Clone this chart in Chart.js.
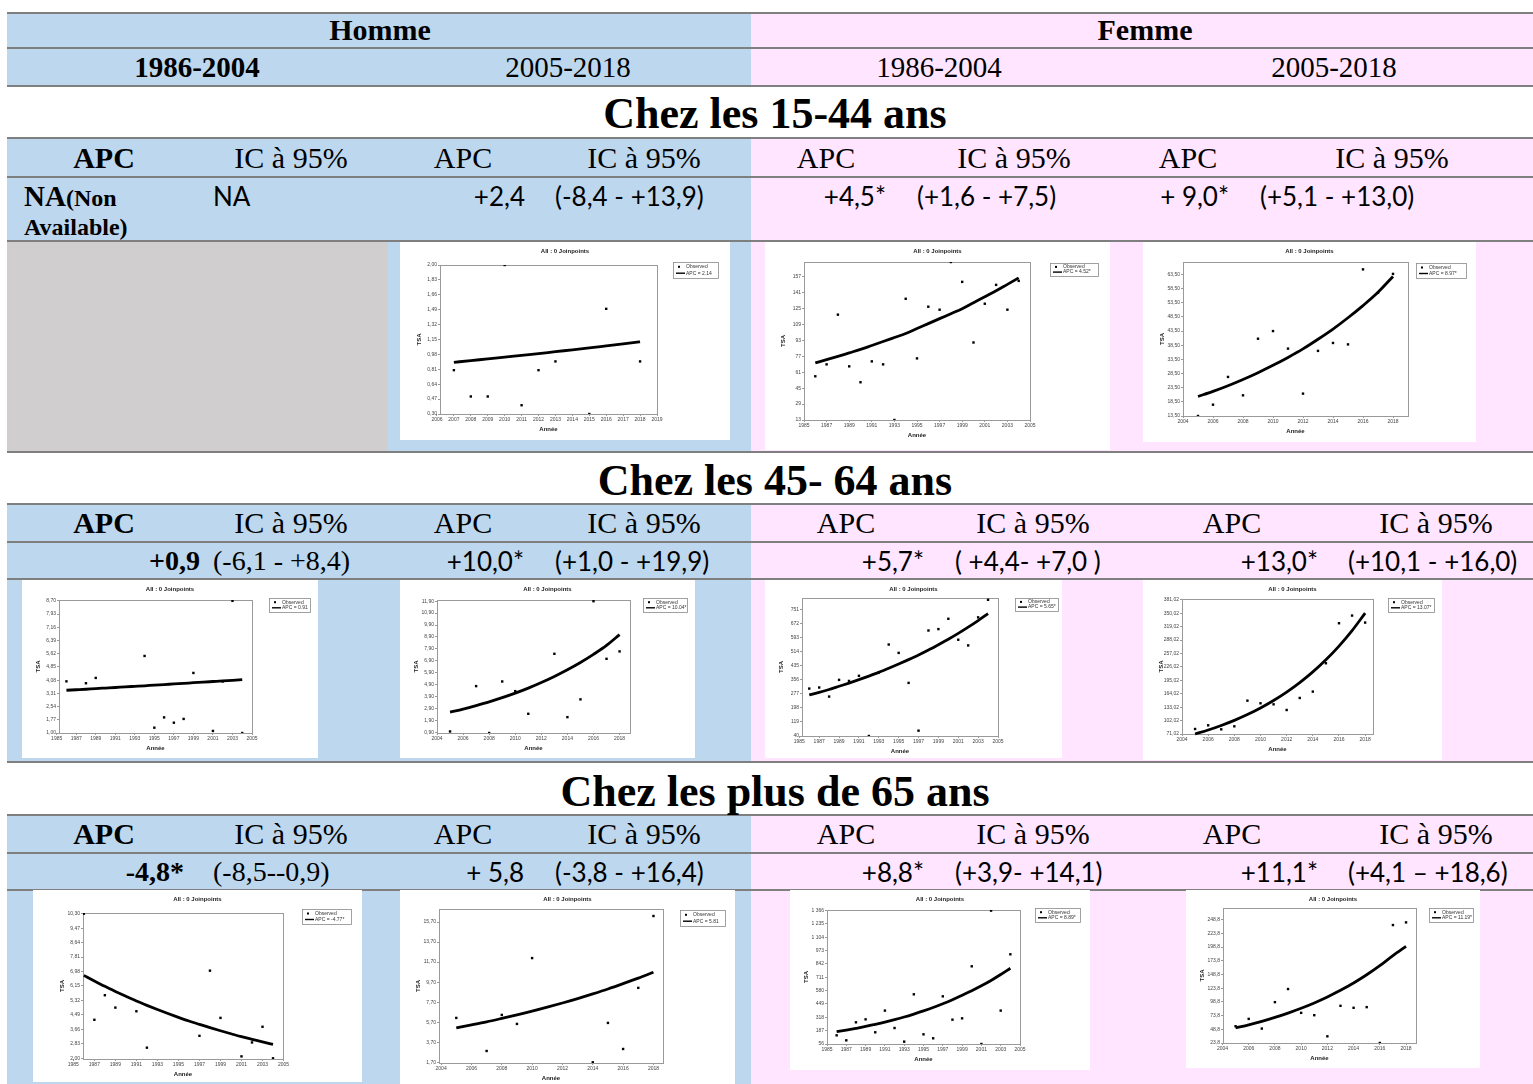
<!DOCTYPE html>
<html lang="fr">
<head>
<meta charset="utf-8">
<title>APC des TSA par sexe, période et classe d'âge</title>
<script src="https://cdn.jsdelivr.net/npm/chart.js@4.4.1/dist/chart.umd.min.js"></script>
<style>
  html, body { margin: 0; padding: 0; background: #fff; }
  #sheet { position: relative; width: 1533px; height: 1084px; overflow: hidden; color: #000; }
  .bg, .rule, .t, .panel { position: absolute; }
  .rule { left: 7px; width: 1526px; height: 2px; background: #7f7f7f; }
  .t { white-space: nowrap; line-height: 1; }
  .panel { background: #fff; }
  .panel canvas { display: block; filter: blur(0.35px); }
</style>
</head>
<body>
<div id="sheet"></div>
<script>
// ---------- Years ----------
const years1986_2004 = [1986,1987,1988,1989,1990,1991,1992,1993,1994,1995,1996,1997,1998,1999,2000,2001,2002,2003,2004];
const years2005_2018 = [2005,2006,2007,2008,2009,2010,2011,2012,2013,2014,2015,2016,2017,2018];
const years2007_2018 = [2007,2008,2009,2010,2011,2012,2013,2014,2015,2016,2017,2018];

// ---------- 15-44 ans ----------
const obsH0518_15_44 = [0.80,0.50,0.50,2.00,0.40,0.80,0.90,null,0.30,1.50,null,0.90];
const fitH0518_15_44 = [0.890,0.909,0.929,0.948,0.969,0.989,1.011,1.032,1.054,1.077,1.100,1.123];
const obsF8604_15_44 = [57,69,119,67,51,72,69,13,135,75,127,124,172,152,91,130,149,124,153];
const fitF8604_15_44 = [70.5,73.7,77,80.5,84,88,92,96,100,105,110,115,120,125,131,137,143,149.5,156];
const obsF0518_15_44 = [13.5,17.5,27.3,20.8,40.8,43.5,37.3,21.4,36.5,39.3,38.8,65.3,57.0,63.7];
const fitF0518_15_44 = [20.4,22.2,24.2,26.4,28.8,31.4,34.2,37.2,40.6,44.2,48.2,52.5,57.2,62.8];

// ---------- 45-64 ans ----------
const obsH8604_45_64 = [4.01,null,3.90,4.21,null,null,null,null,5.49,1.31,1.91,1.60,1.82,4.50,null,1.12,4.00,8.70,1.00];
const fitH8604_45_64 = [3.49,3.52,3.55,3.59,3.62,3.65,3.69,3.72,3.75,3.79,3.82,3.86,3.89,3.93,3.96,4.00,4.04,4.07,4.11];
const obsH0518_45_64 = [0.98,null,4.78,0.85,5.17,4.36,2.46,null,7.49,2.18,3.67,11.90,7.07,7.69];
const fitH0518_45_64 = [2.60,2.86,3.15,3.46,3.81,4.19,4.61,5.08,5.59,6.15,6.76,7.44,8.19,9.10];
const obsF8604_45_64 = [307,313,262,356,350,379,40,398,555,508,339,70,634,642,700,582,550,708,807];
const fitF8604_45_64 = [271,286,302,320,338,357,377,398,421,445,470,496,524,554,585,618,653,690,729];
const obsF0518_45_64 = [82.6,91.1,81.8,88.8,148.1,142.0,139.6,126.5,154.3,169.0,234.5,327.0,344.7,328.5];
const fitF0518_45_64 = [71,80.3,90.8,102.6,116,131.2,148.4,167.8,189.7,214.5,242.5,274.2,310,350.5];

// ---------- 65 ans et plus ----------
const obsH8604_65 = [10.30,4.21,5.62,4.91,null,4.70,2.61,null,null,null,null,3.29,7.03,4.32,null,2.11,2.91,3.81,2.00];
const fitH8604_65 = [6.76,6.44,6.13,5.84,5.56,5.29,5.04,4.80,4.57,4.35,4.14,3.95,3.76,3.58,3.41,3.24,3.09,2.94,2.80];
const obsH0518_65 = [6.13,null,2.83,6.43,5.53,12.10,null,null,null,1.70,5.63,3.03,9.13,16.30];
const fitH0518_65 = [5.13,5.43,5.74,6.08,6.43,6.80,7.20,7.62,8.06,8.53,9.02,9.55,10.10,10.69];
const obsF8604_65 = [141,92,269,298,171,384,213,79,544,151,112,524,295,308,819,56,1366,384,937];
const fitF8604_65 = [177,193,210,228,249,271,295,321,350,381,414,451,491,535,580,628,680,738,800];
const obsF0518_65 = [54.4,67.8,50.1,98.3,122.2,78.8,74.5,36.0,91.6,88.0,89.2,23.8,238.9,243.8];
const fitF0518_65 = [51.3,57.0,63.4,70.5,78.4,87.2,96.9,107.8,119.8,133.2,148.2,164.8,183.2,200.0];

// ---------- Axis ticks ----------
const xTicksYearly = [2006,2007,2008,2009,2010,2011,2012,2013,2014,2015,2016,2017,2018,2019];
const xTicksOdd = [1985,1987,1989,1991,1993,1995,1997,1999,2001,2003,2005];
const xTicksEven = [2004,2006,2008,2010,2012,2014,2016,2018];
const yTicksH0518_15_44 = [0.30,0.47,0.64,0.81,0.98,1.15,1.32,1.49,1.66,1.83,2.00];
const yTicksF8604_15_44 = [13,29,45,61,77,93,109,125,141,157];
const yTicksF0518_15_44 = [13.5,18.5,23.5,28.5,33.5,38.5,43.5,48.5,53.5,58.5,63.5];
const yTicksH8604_45_64 = [1.00,1.77,2.54,3.31,4.08,4.85,5.62,6.39,7.16,7.93,8.70];
const yTicksH0518_45_64 = [0.90,1.90,2.90,3.90,4.90,5.90,6.90,7.90,8.90,9.90,10.90,11.90];
const yTicksF8604_45_64 = [40,119,198,277,356,435,514,593,672,751];
const yTicksF0518_45_64 = [71.02,102.02,133.02,164.02,195.02,226.02,257.02,288.02,319.02,350.02,381.02];
const yTicksH8604_65 = [2.00,2.83,3.66,4.49,5.32,6.15,6.98,7.81,8.64,9.47,10.30];
const yTicksH0518_65 = [1.70,3.70,5.70,7.70,9.70,11.70,13.70,15.70];
const yTicksF8604_65 = [56,187,318,449,580,711,842,973,1104,1235,1366];
const yTicksF0518_65 = [23.8,48.8,73.8,98.8,123.8,148.8,173.8,198.8,223.8,248.8];

// ---------- Table text ----------
const sexes = ['Homme', 'Femme'];
const periods = ['1986-2004', '2005-2018', '1986-2004', '2005-2018'];
const ageGroups = ['Chez les 15-44 ans', 'Chez les 45- 64 ans', 'Chez les plus de 65 ans'];
const apc15_44 = ['NA', '+2,4', '+4,5*', '+ 9,0*'];
const ci15_44 = ['NA', '(-8,4 - +13,9)', '(+1,6 - +7,5)', '(+5,1 - +13,0)'];
const apc45_64 = ['+0,9', '+10,0*', '+5,7*', '+13,0*'];
const ci45_64 = ['(-6,1 - +8,4)', '(+1,0 - +19,9)', '( +4,4- +7,0 )', '(+10,1 - +16,0)'];
const apc65 = ['-4,8*', '+ 5,8', '+8,8*', '+11,1*'];
const ci65 = ['(-8,5--0,9)', '(-3,8 - +16,4)', '(+3,9- +14,1)', '(+4,1 \u2013 +18,6)'];
const legendApc = ['2.14', '4.52*', '8.97*', '0.91', '10.04*', '5.65*', '13.07*', '-4.77*', '5.81', '8.89*', '11.19*'];

// ---------- Page layout ----------
const BLUE = '#bdd7ee', PINK = '#ffe5ff', GREY = '#d0cece';
const SERIF = '"Liberation Serif", "DejaVu Serif", serif';
const SANS = 'Lato, "Open Sans", sans-serif';
const sheet = document.getElementById('sheet');

function box(x, y, w, h, color, cls) {
  const d = document.createElement('div');
  d.className = cls || 'bg';
  Object.assign(d.style, { left: x + 'px', top: y + 'px', width: w + 'px', height: h + 'px', background: color });
  sheet.appendChild(d);
  return d;
}
function text(str, x, y, align, font, extra) {
  const d = document.createElement('div');
  d.className = 't';
  d.style.left = x + 'px';
  d.style.top = y + 'px';
  d.style.font = font;
  const tx = align === 'c' ? '-50%' : align === 'r' ? '-100%' : '0';
  d.style.transform = `translate(${tx}, -50%)`;
  if (extra) d.innerHTML = extra; else d.textContent = str;
  sheet.appendChild(d);
  return d;
}

// coloured bands
box(7, 12, 744, 74, BLUE); box(751, 12, 782, 74, PINK);
box(7, 138, 744, 314, BLUE); box(751, 138, 782, 314, PINK);
box(7, 242, 381, 210, GREY);
box(7, 504, 744, 258, BLUE); box(751, 504, 782, 258, PINK);
box(7, 815, 744, 269, BLUE); box(751, 815, 782, 269, PINK);

// horizontal rules
[12, 47, 85, 137, 176, 240, 451, 503, 541, 578, 761, 814, 852, 889].forEach(y => {
  const r = document.createElement('div');
  r.className = 'rule';
  r.style.top = y + 'px';
  sheet.appendChild(r);
});

// header rows
text(sexes[0], 380, 30, 'c', `bold 30px ${SERIF}`);
text(sexes[1], 1145, 30, 'c', `bold 30px ${SERIF}`);
[197, 568, 939, 1334].forEach((x, i) =>
  text(periods[i], x, 67, 'c', `${i === 0 ? 'bold ' : ''}29px ${SERIF}`));

// age-group titles
[113, 480, 791].forEach((y, i) => text(ageGroups[i], 775, y, 'c', `bold 44px ${SERIF}`));

// APC / IC header rows
const headX = [
  [104, 291, 463, 644, 826, 1014, 1188, 1392],
  [104, 291, 463, 644, 846, 1033, 1232, 1436],
  [104, 291, 463, 644, 846, 1033, 1232, 1436]
];
[158, 523, 834].forEach((y, s) => headX[s].forEach((x, k) =>
  text(k % 2 ? 'IC à 95%' : 'APC', x, y, 'c', `${k === 0 ? 'bold ' : ''}30px ${SERIF}`)));

// values, 15-44 ans
text('', 24, 196, 'l', `bold 29px ${SERIF}`, 'NA<span style="font-size:24px">(Non</span>');
text('Available)', 24, 227, 'l', `bold 24px ${SERIF}`);
text(ci15_44[0], 213, 196, 'l', `26px ${SANS}`);
[525, 886, 1229].forEach((x, i) => text(apc15_44[i + 1], x, 196, 'r', `26px ${SANS}`));
[555, 917, 1260].forEach((x, i) => text(ci15_44[i + 1], x, 196, 'l', `26px ${SANS}`));

// values, 45-64 ans and 65 ans et plus
function valueRow(y, apc, ci, firstEnd) {
  text(apc[0], firstEnd, y, 'r', `bold 28px ${SERIF}`);
  text(ci[0], 213, y, 'l', `28px ${SERIF}`);
  [524, 924, 1318].forEach((x, i) => text(apc[i + 1], x, y, 'r', `26px ${SANS}`));
  [555, 955, 1348].forEach((x, i) => text(ci[i + 1], x, y, 'l', `26px ${SANS}`));
}
valueRow(561, apc45_64, ci45_64, 200);
valueRow(872, apc65, ci65, 184);

// ---------- Joinpoint panels ----------
function fmtTick(v, d) {
  const s = v.toFixed(d);
  const [ip, fp] = s.split('.');
  const ipS = ip.replace(/\B(?=(\d{3})+(?!\d))/g, ' ');
  return fp ? ipS + ',' + fp : ipS;
}

const panels = [
  { box:[400,242,330,198], frame:[440,265,657,414], leg:[673,262,45,16], x:[2006.18,2019], y:[0.30,2.00],
    years:years2007_2018, obs:obsH0518_15_44, fit:fitH0518_15_44, yTicks:yTicksH0518_15_44, dec:2, xTicks:xTicksYearly },
  { box:[765,242,345,208], frame:[804,262,1030,420], leg:[1050,263,48,13], x:[1985,2005], y:[13,172],
    years:years1986_2004, obs:obsF8604_15_44, fit:fitF8604_15_44, yTicks:yTicksF8604_15_44, dec:0, xTicks:xTicksOdd },
  { box:[1143,242,333,200], frame:[1183,262,1408,416], leg:[1416,263,50,15], x:[2004,2019], y:[13.5,67.9],
    years:years2005_2018, obs:obsF0518_15_44, fit:fitF0518_15_44, yTicks:yTicksF0518_15_44, dec:2, xTicks:xTicksEven },
  { box:[22,580,296,178], frame:[59,600,252,733], leg:[269,598,41,14], x:[1985.24,2005], y:[1.00,8.75],
    years:years1986_2004, obs:obsH8604_45_64, fit:fitH8604_45_64, yTicks:yTicksH8604_45_64, dec:2, xTicks:xTicksOdd },
  { box:[400,580,295,178], frame:[437,600,630,733], leg:[643,598,44,14], x:[2004,2018.8], y:[0.85,12.0],
    years:years2005_2018, obs:obsH0518_45_64, fit:fitH0518_45_64, yTicks:yTicksH0518_45_64, dec:2, xTicks:xTicksEven },
  { box:[765,580,297,178], frame:[802,598,998,736], leg:[1015,598,43,13], x:[1985.27,2005], y:[40,817],
    years:years1986_2004, obs:obsF8604_45_64, fit:fitF8604_45_64, yTicks:yTicksF8604_45_64, dec:0, xTicks:xTicksOdd },
  { box:[1143,580,299,180], frame:[1182,599,1373,734], leg:[1388,598,46,14], x:[2004,2018.6], y:[71.02,383],
    years:years2005_2018, obs:obsF0518_45_64, fit:fitF0518_45_64, yTicks:yTicksF0518_45_64, dec:2, xTicks:xTicksEven },
  { box:[33,890,329,192], frame:[83,913,283,1059], leg:[302,909,49,15], x:[1985.92,2004.95], y:[1.96,10.34],
    years:years1986_2004, obs:obsH8604_65, fit:fitH8604_65, yTicks:yTicksH8604_65, dec:2, xTicks:xTicksOdd },
  { box:[400,890,335,194], frame:[439,909,663,1063], leg:[680,910,45,16], x:[2003.86,2018.63], y:[1.63,17.0],
    years:years2005_2018, obs:obsH0518_65, fit:fitH0518_65, yTicks:yTicksH0518_65, dec:2, xTicks:xTicksEven },
  { box:[790,890,300,180], frame:[827,910,1020,1044], leg:[1035,908,45,14], x:[1985,2005], y:[56,1372],
    years:years1986_2004, obs:obsF8604_65, fit:fitF8604_65, yTicks:yTicksF8604_65, dec:0, xTicks:xTicksOdd },
  { box:[1186,890,294,178], frame:[1223,908,1416,1043], leg:[1429,908,44,14], x:[2004.04,2018.76], y:[23.8,270],
    years:years2005_2018, obs:obsF0518_65, fit:fitF0518_65, yTicks:yTicksF0518_65, dec:1, xTicks:xTicksEven }
];

const Y_AXIS_W = 24, X_AXIS_H = 20;
const TICK_FONT = { family: '"Liberation Sans", Arial, sans-serif', size: 5 };
const LABEL_FONT = { family: '"Liberation Sans", Arial, sans-serif', size: 6, weight: 'bold' };

panels.forEach((p, idx) => {
  const [bx, by, bw, bh] = p.box;
  const [fl, ft, fr, fb] = p.frame;
  const holder = box(bx, by, bw, bh, '#fff', 'panel');
  const cv = document.createElement('canvas');
  cv.width = bw; cv.height = bh;
  cv.style.width = bw + 'px'; cv.style.height = bh + 'px';
  holder.appendChild(cv);

  const legRect = [p.leg[0] - bx, p.leg[1] - by, p.leg[2], p.leg[3]];

  // title above the plot frame
  const panelTitle = {
    id: 'panelTitle',
    afterDraw(chart) {
      const c = chart.ctx;
      c.save();
      c.font = 'bold 6px "Liberation Sans", Arial, sans-serif';
      c.fillStyle = '#222';
      c.textAlign = 'center';
      c.textBaseline = 'middle';
      c.fillText('All : 0 Joinpoints', chart.width / 2, 9.5);
      c.restore();
    }
  };
  // grey frame round the plotting area
  const plotFrame = {
    id: 'plotFrame',
    beforeDatasetsDraw(chart) {
      const a = chart.chartArea, c = chart.ctx;
      c.save();
      c.strokeStyle = '#9a9a9a';
      c.lineWidth = 1;
      c.strokeRect(Math.round(a.left) + 0.5, Math.round(a.top) + 0.5, Math.round(a.right - a.left), Math.round(a.bottom - a.top));
      c.restore();
    }
  };
  // boxed legend to the right of the frame
  const boxedLegend = {
    id: 'boxedLegend',
    afterDraw(chart) {
      const c = chart.ctx, ds = chart.data.datasets;
      const [lx, ly, lw, lh] = legRect;
      const r1 = ly + lh * 0.3, r2 = ly + lh * 0.7;
      c.save();
      c.strokeStyle = '#8a8a8a'; c.lineWidth = 0.8;
      c.strokeRect(lx + 0.5, ly + 0.5, lw, lh);
      c.fillStyle = '#000';
      c.fillRect(lx + 5, r1 - 1, 2, 2);
      c.strokeStyle = '#000'; c.lineWidth = 1.4;
      c.beginPath(); c.moveTo(lx + 3, r2); c.lineTo(lx + 12, r2); c.stroke();
      c.font = '5px "Liberation Sans", Arial, sans-serif';
      c.fillStyle = '#333'; c.textBaseline = 'middle';
      c.fillText(ds[0].label, lx + 13, r1);
      c.fillText(ds[1].label, lx + 13, r2);
      c.restore();
    }
  };

  const observed = p.years.map((x, i) => ({ x, y: p.obs[i] })).filter(d => d.y !== null);
  const fitted = p.years.map((x, i) => ({ x, y: p.fit[i] }));

  new Chart(cv, {
    data: {
      datasets: [
        { type: 'scatter', label: 'Observed', data: observed, pointStyle: 'rect', pointRadius: 1.7,
          backgroundColor: '#000', borderColor: '#000', borderWidth: 0, order: 1 },
        { type: 'line', label: 'APC = ' + legendApc[idx], data: fitted, borderColor: '#000', borderWidth: 2.8,
          pointRadius: 0, cubicInterpolationMode: 'monotone', fill: false, order: 2, clip: false }
      ]
    },
    options: {
      responsive: false,
      animation: false,
      devicePixelRatio: 1,
      layout: { padding: { left: (fl - bx) - Y_AXIS_W, top: ft - by, right: (bx + bw) - fr, bottom: (by + bh) - fb - X_AXIS_H } },
      plugins: { legend: { display: false }, tooltip: { enabled: false }, title: { display: false } },
      scales: {
        x: {
          type: 'linear', min: p.x[0], max: p.x[1],
          afterBuildTicks: s => { s.ticks = p.xTicks.map(v => ({ value: v })); },
          afterFit: s => { s.height = X_AXIS_H; },
          grid: { display: true, drawOnChartArea: false, drawTicks: true, tickLength: 2, color: '#9a9a9a' },
          border: { display: false },
          ticks: { font: TICK_FONT, color: '#444', padding: 1, maxRotation: 0, autoSkip: false, callback: v => String(v) },
          title: { display: true, text: 'Année', font: LABEL_FONT, color: '#222', padding: { top: 0, bottom: 1.4 } }
        },
        y: {
          type: 'linear', min: p.y[0], max: p.y[1],
          afterBuildTicks: s => { s.ticks = p.yTicks.map(v => ({ value: v })); },
          afterFit: s => { s.width = Y_AXIS_W; },
          grid: { display: true, drawOnChartArea: false, drawTicks: true, tickLength: 2, color: '#9a9a9a' },
          border: { display: false },
          ticks: { font: TICK_FONT, color: '#444', padding: 1, autoSkip: false, callback: v => fmtTick(v, p.dec) },
          title: { display: true, text: 'TSA', font: LABEL_FONT, color: '#222', padding: { top: 0, bottom: 0 } }
        }
      }
    },
    plugins: [plotFrame, panelTitle, boxedLegend]
  });
});
</script>
</body>
</html>
